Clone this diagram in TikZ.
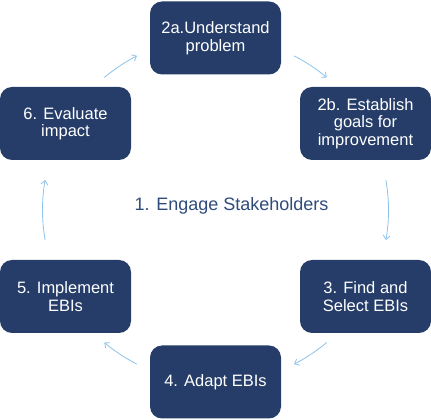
\documentclass[tikz,border=0pt]{standalone}
\usepackage{fontspec}
\setmainfont{Liberation Sans}
\usetikzlibrary{arrows.meta}

\definecolor{navybox}{RGB}{37,61,104}
\definecolor{cycleblue}{RGB}{140,195,235}
\definecolor{engageblue}{RGB}{47,75,124}

\begin{document}
\begin{tikzpicture}[x=1pt, y=1pt,
  stepbox/.style={draw=none, fill=navybox, rounded corners=12pt, text=white,
    minimum width=131pt, minimum height=73pt, align=center,
    font=\fontsize{16.5}{17.5}\selectfont},
  cyc/.style={cycleblue, line width=0.8pt, -{Straight Barb[length=4pt, width=7pt]}}]
\useasboundingbox (0,0) rectangle (431,420);

\node[stepbox] (s2a) at (215.5, 382) {2a.Understand\\problem};
\node[stepbox] (s2b) at (365.5, 296.5) {2b. Establish\\goals for\\improvement};
\node[stepbox] (s3) at (365.5, 123.5) {3. Find and\\Select EBIs};
\node[stepbox] (s4) at (215.5, 38) {4. Adapt EBIs};
\node[stepbox] (s5) at (65.5, 123.5) {5. Implement\\EBIs};
\node[stepbox] (s6) at (65.5, 296.5) {6. Evaluate\\impact};

\node[text=engageblue, font=\fontsize{18}{20}\selectfont] (engage) at (231.5, 214) {1. Engage Stakeholders};

% arrows on a circle round the middle
\coordinate (c) at (215.5, 210);
\path (c) ++(130:173) coordinate (a1);
\path (c) ++(63:173) coordinate (a2);
\path (c) ++(10:173) coordinate (a3);
\path (c) ++(-50:173) coordinate (a4);
\path (c) ++(-117:173) coordinate (a5);
\path (c) ++(190:173) coordinate (a6);
\draw[cyc] (a1) arc[start angle=130, end angle=117, radius=173pt];
\draw[cyc] (a2) arc[start angle=63, end angle=50, radius=173pt];
\draw[cyc] (a3) arc[start angle=10, end angle=-10, radius=173pt];
\draw[cyc] (a4) arc[start angle=-50, end angle=-63, radius=173pt];
\draw[cyc] (a5) arc[start angle=-117, end angle=-130, radius=173pt];
\draw[cyc] (a6) arc[start angle=190, end angle=170, radius=173pt];

\end{tikzpicture}
\end{document}
